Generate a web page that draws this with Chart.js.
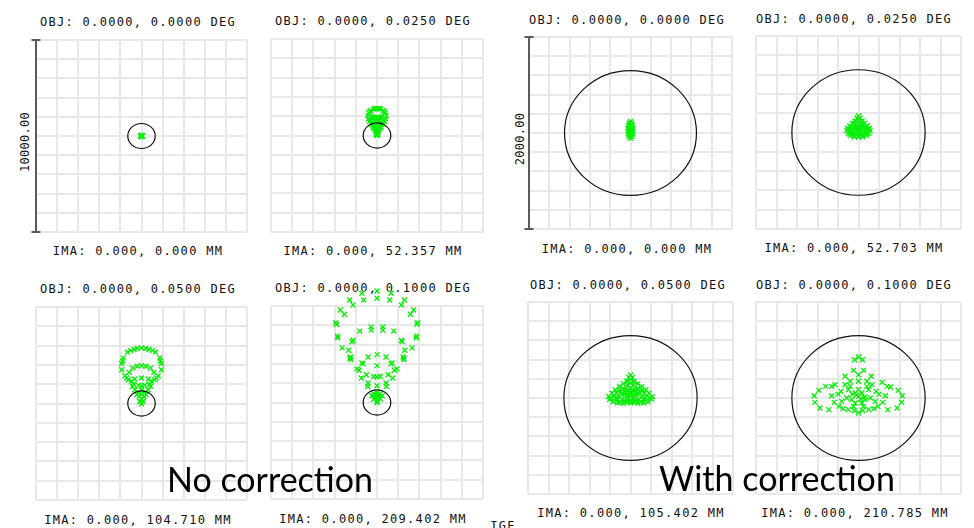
<!DOCTYPE html>
<html>
<head>
<meta charset="utf-8">
<title>Spot diagrams</title>
<script src="https://cdn.jsdelivr.net/npm/chart.js@4/dist/chart.umd.min.js"></script>
<style>
  body { margin: 0; background: #fff; }
  #page { position: relative; width: 974px; height: 528px; overflow: hidden; background: #fff; }
  #page canvas { position: absolute; }
  .lbl { position: absolute; font-family: 'DejaVu Sans Mono', monospace; font-size: 12px; line-height: 12px;
         letter-spacing: 1.3px; white-space: nowrap; color: #111; transform: translate(-50%, -50%); }
  .bar-lbl { letter-spacing: 0.3px; transform: translate(-50%, -50%) rotate(-90deg); }
  .big { position: absolute; font-family: 'Lato', 'Open Sans', sans-serif; font-size: 34px; line-height: 34px;
         white-space: nowrap; color: #000; transform: translate(-50%, -50%); }
</style>
</head>
<body>
<div id="page"></div>
<script>
var fieldsDeg = ['0.0000', '0.0250', '0.0500', '0.1000'];
var imaNoCorr = ['0.000', '52.357', '104.710', '209.402'];
var imaWithCorr = ['0.000', '52.703', '105.402', '210.785'];
var scaleNoCorr = 10000;   // scale bar, um
var scaleWithCorr = 2000;  // scale bar, um
var airyRadius = 650;      // um

// spot positions (x, y) in um, no correction
var spotNC0 = [[0,0],[-35,0],[35,0],[0,35],[0,-35],[-25,25],[25,25],[-25,-25],[25,-25]];
var spotNC1 = [[0,1400],[-150,1370],[150,1370],[-290,1300],[290,1300],[-390,1170],[390,1170],[-430,1020],[430,1020],
  [-410,860],[410,860],[-360,720],[360,720],[-300,600],[300,600],[-80,1390],[80,1390],[-340,1240],[340,1240],
  [-190,900],[-95,940],[0,950],[95,940],[190,900],[-260,790],[260,790],[-230,980],[230,980],
  [-210,560],[-140,620],[0,640],[140,620],[210,560],[-190,440],[190,440],[-140,350],[140,350],[0,800],[-110,760],[110,760],
  [-90,490],[90,490],[0,390],[-70,270],[70,270],[0,240],[-50,170],[50,170],[0,110],[-35,50],[35,50],[0,0],[0,330]];
var spotNC2 = [[-350,2795],[0,2880],[350,2795],[-660,2660],[660,2660],[-520,2740],[520,2740],[-870,2360],[870,2360],
  [-945,2070],[945,2070],[-945,1750],[945,1750],[-790,1440],[790,1440],[-630,1230],[630,1230],
  [-425,1840],[-205,1930],[0,1960],[205,1930],[425,1840],[-580,1610],[580,1610],
  [-470,1150],[-315,1270],[0,1320],[315,1270],[470,1150],[-425,885],[425,885],[-315,710],[315,710],
  [-160,570],[160,570],[0,500],[-110,365],[110,365],[0,225],[-80,105],[80,105],[0,-15],[0,710],
  [-220,460],[220,460],[0,900],[-150,950],[150,950],[-890,2200],[890,2200],[-200,2850],[200,2850],
  [-700,1330],[700,1330],[-380,1000],[380,1000]];
var spotNC3 = [[0,5780],[0,5400],[-710,5660],[-630,5310],[660,5660],[600,5310],[-1290,5310],[-1130,5050],[1290,5310],[1150,5050],
  [-1730,4790],[-1540,4570],[1730,4790],[1575,4570],[-1950,4130],[-1860,3440],[1920,4130],[1860,3440],
  [-1650,2830],[-1340,2710],[1650,2830],[1310,2710],[-1260,2360],[-1230,2220],[1230,2360],[1260,2220],
  [-820,3700],[-280,3920],[-270,3750],[270,3920],[270,3750],[790,3700],[-1130,3230],[1150,3230],
  [-945,1740],[-850,1670],[-710,2050],[-660,2000],[945,1740],[820,1670],[710,2050],[660,2000],
  [-425,2360],[0,2480],[425,2360],[0,1910],
  [-740,1270],[-500,1440],[-160,1350],[0,1320],[160,1350],[520,1440],[740,1270],[-425,1010],[425,1010],[-440,830],[440,830],[0,870],
  [-160,450],[0,520],[160,450],[-80,310],[80,310],[-160,175],[160,175],[0,105],[0,0],[-30,400],[30,225],[-240,350],[240,350],
  [-1900,4040],[1880,4050],[-1850,3350],[1850,3350],[-1180,3150],[1180,3150],[-1270,2290],[1270,2290]];

// spot positions (x, y) in um, with correction
var spotWC0 = [[0,120],[-12,105],[12,105],[-20,80],[0,85],[20,80],[-25,50],[-8,55],[8,55],[25,50],[-25,20],[-8,25],[8,25],[25,20],
  [-22,-10],[0,-5],[22,-10],[-15,-35],[0,-30],[15,-35],[0,-55]];
var spotWC1 = [[0,172],[-15,150],[15,150],[0,130],[-35,120],[35,120],[-60,95],[60,95],[-85,70],[85,70],[-105,45],[105,45],
  [-113,20],[113,20],[-100,-5],[100,-5],[-75,-30],[75,-30],[-40,-45],[40,-45],[0,-47],[-55,20],[0,35],[55,20],[-25,70],[25,70],
  [0,90],[-75,40],[75,40],[-25,-15],[25,-15],[0,0],[-55,-15],[55,-15],[0,-30],[-85,15],[85,15],[-20,45],[20,45],[-45,55],[45,55],
  [-35,95],[35,95],[0,60],[-65,0],[65,0],[-95,30],[95,30],[-15,110],[15,110],[-45,-35],[45,-35],[-15,20],[15,20],[-85,-15],[85,-15]];
var spotWC2 = [[0,238],[-18,215],[18,215],[0,195],[-36,175],[36,175],[-72,150],[72,150],[-108,120],[108,120],[-150,85],[150,85],
  [-180,50],[180,50],[-213,15],[213,15],[-205,-15],[205,-15],[-170,-40],[170,-40],[-125,-50],[125,-50],[-70,-55],[70,-55],[0,-50],
  [-135,50],[-90,70],[-45,90],[0,105],[45,90],[90,70],[135,50],[-110,15],[-55,35],[0,45],[55,35],[110,15],[-80,-15],[-28,0],[28,0],
  [80,-15],[-36,-35],[36,-35],[0,-20],[0,70],[-145,5],[145,5],[-28,135],[28,135],[0,155],[-160,25],[160,25],[-60,-30],[60,-30],
  [-115,80],[115,80],[-70,100],[70,100],[-20,80],[20,80],[-85,40],[85,40],[-30,25],[30,25],[-130,-25],[130,-25],[-100,-45],[100,-45],
  [-50,60],[50,60],[0,20],[-15,-40],[15,-40],[-190,0],[190,0]];
var spotWC3 = [[0,427],[-39,399],[39,399],[-49,288],[49,288],[0,243],[-131,226],[125,226],
  [-433,24],[-426,-45],[-377,-104],[-289,-121],[-387,80],[-321,121],[-262,121],[-230,139],
  [230,163],[279,121],[312,115],[387,80],[426,24],[420,-45],[377,-104],[285,-121],
  [-262,24],[-236,-45],[-190,-87],[-171,69],[-131,139],[-82,174],[0,174],[82,174],[131,139],[171,69],[190,-87],[236,-45],[262,24],
  [-98,-121],[0,-156],[98,-121],[-49,-87],[49,-87],[-66,-17],[66,-17],[-33,52],[33,52],[0,17],[0,87],[-98,87],[98,87],
  [-115,0],[115,0],[-164,-35],[164,-35],[-82,121],[82,121],[-33,-52],[33,-52],[-150,-110],[150,-110],[-40,-130],[40,-130],
  [-20,30],[20,-10],[-60,40],[60,10],[-200,40],[200,40]];

// grid boxes on the page: left, top, width, height
var panels = [
  { box: [36, 40, 211, 192],  half: scaleNoCorr / 2,   pts: spotNC0, bar: true },
  { box: [271, 39, 212, 193], half: scaleNoCorr / 2,   pts: spotNC1 },
  { box: [36, 307, 211, 193], half: scaleNoCorr / 2,   pts: spotNC2 },
  { box: [271, 306, 212, 193], half: scaleNoCorr / 2,  pts: spotNC3 },
  { box: [529, 37, 203, 192], half: scaleWithCorr / 2, pts: spotWC0, bar: true },
  { box: [756, 36, 205, 193], half: scaleWithCorr / 2, pts: spotWC1 },
  { box: [528, 302, 205, 192], half: scaleWithCorr / 2, pts: spotWC2 },
  { box: [756, 302, 205, 192], half: scaleWithCorr / 2, pts: spotWC3 }
];
// label centres: [objX, objY, imaX, imaY]
var labelPos = [
  [138, 22, 138, 251], [373, 20.5, 373, 251], [138, 288.5, 138, 519.5], [373, 288, 373, 519],
  [627, 20, 627, 249], [854, 18.7, 854, 248], [628, 285.3, 631, 513.3], [854, 284.7, 855, 512.8]
];

var page = document.getElementById('page');
var PAD = 24;

function addText(cls, text, x, y) {
  var d = document.createElement('div');
  d.className = cls;
  d.textContent = text;
  d.style.left = x + 'px';
  d.style.top = y + 'px';
  page.appendChild(d);
  return d;
}

// OBJ / IMA labels
for (var i = 0; i < 8; i++) {
  var f = fieldsDeg[i % 4];
  var ima = i < 4 ? imaNoCorr[i] : imaWithCorr[i - 4];
  addText('lbl', 'OBJ: 0.0000, ' + f + ' DEG', labelPos[i][0], labelPos[i][1]);
  addText('lbl', 'IMA: 0.000, ' + ima + ' MM', labelPos[i][2], labelPos[i][3]);
}
addText('lbl bar-lbl', scaleNoCorr.toFixed(2), 25, 142);
addText('lbl bar-lbl', scaleWithCorr.toFixed(2), 520, 139);
addText('lbl', 'IGE', 503, 526);

// airy circle and scale bar; also lets spots outside the grid box be drawn
var spotOverlay = {
  id: 'spotOverlay',
  beforeDatasetsDraw: function(chart) {
    chart._gridArea = chart.chartArea;
    chart.chartArea = { left: 0, top: 0, right: chart.width, bottom: chart.height, width: chart.width, height: chart.height };
  },
  afterDatasetsDraw: function(chart, args, opts) {
    chart.chartArea = chart._gridArea;
    var ctx = chart.ctx, x = chart.scales.x, y = chart.scales.y;
    var cx = x.getPixelForValue(0), cy = y.getPixelForValue(0);
    var rx = Math.abs(x.getPixelForValue(airyRadius) - cx);
    var ry = Math.abs(cy - y.getPixelForValue(airyRadius));
    ctx.save();
    ctx.beginPath();
    ctx.ellipse(cx, cy, rx, ry, 0, 0, Math.PI * 2);
    ctx.strokeStyle = '#111';
    ctx.lineWidth = 1.2;
    ctx.stroke();
    if (opts.bar) {
      var bx = x.getPixelForValue(x.min);
      var top = y.getPixelForValue(y.max), bot = y.getPixelForValue(y.min);
      ctx.strokeStyle = '#5a5a5a';
      ctx.lineWidth = 2;
      ctx.beginPath();
      ctx.moveTo(bx, top); ctx.lineTo(bx, bot);
      ctx.moveTo(bx - 4.5, top); ctx.lineTo(bx + 4.5, top);
      ctx.moveTo(bx - 4.5, bot); ctx.lineTo(bx + 4.5, bot);
      ctx.stroke();
    }
    ctx.restore();
  }
};

panels.forEach(function(p) {
  var c = document.createElement('canvas');
  c.width = p.box[2] + 2 * PAD;
  c.height = p.box[3] + 2 * PAD;
  c.style.left = (p.box[0] - PAD) + 'px';
  c.style.top = (p.box[1] - PAD) + 'px';
  page.appendChild(c);

  var axis = {
    type: 'linear',
    min: -p.half, max: p.half,
    ticks: { display: false, stepSize: p.half / 5 },
    grid: { color: '#e8e8e8', lineWidth: 2, drawTicks: false },
    border: { display: false }
  };
  new Chart(c.getContext('2d'), {
    type: 'scatter',
    data: {
      datasets: [{
        data: p.pts.map(function(q) { return { x: q[0], y: q[1] }; }),
        pointStyle: 'crossRot',
        pointRadius: 3.5,
        pointBorderWidth: 1.3,
        borderColor: '#00f000',
        backgroundColor: '#00f000',
        clip: false
      }]
    },
    options: {
      responsive: false,
      animation: false,
      devicePixelRatio: 1,
      events: [],
      layout: { padding: PAD },
      plugins: { legend: { display: false }, tooltip: { enabled: false }, spotOverlay: { bar: !!p.bar } },
      scales: { x: axis, y: Object.assign({}, axis) }
    },
    plugins: [spotOverlay]
  });
});

addText('big', 'No correction', 270, 479);
addText('big', 'With correction', 777, 478);
</script>
</body>
</html>
